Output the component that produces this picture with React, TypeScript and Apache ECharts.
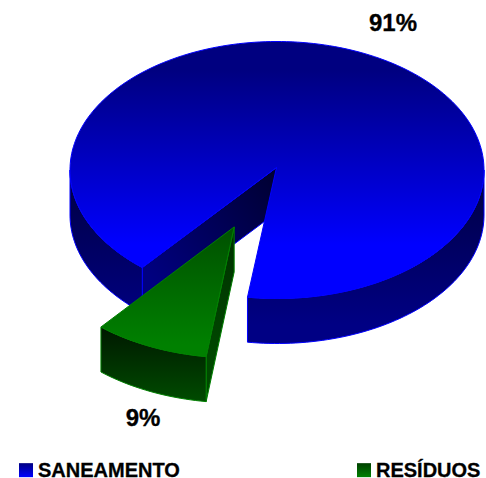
import React, { useEffect, useRef } from "react";
import * as echarts from "echarts";

const categories = ["SANEAMENTO", "RESÍDUOS"];
const shares = [91, 9];
const explodeFractions = [0, 0.495];

const CX = 277;
const CY = 170;
const RX = 207;
const RY = 128.5;
const APEX_DX = -0.5;
const APEX_DY = -2.5;
const DEPTH = 45;
const START = 130.6;
const FONT = '"Liberation Sans", Arial, sans-serif';

const vgrad = (y1: number, y2: number, c1: string, c2: string) => ({
  type: "linear", x: 0, y: y1, x2: 0, y2, global: true,
  colorStops: [{ offset: 0, color: c1 }, { offset: 1, color: c2 }],
});
const lgrad = (x1: number, y1: number, x2: number, y2: number, c1: string, c2: string) => ({
  type: "linear", x: x1, y: y1, x2, y2, global: true,
  colorStops: [{ offset: 0, color: c1 }, { offset: 1, color: c2 }],
});
const boxGrad = (c1: string, c2: string) => ({
  type: "linear", x: 0, y: 0, x2: 0, y2: 1,
  colorStops: [{ offset: 0, color: c1 }, { offset: 1, color: c2 }],
});

const palette = [
  {
    edge: "#0000ff",
    top: () => vgrad(70, 245, "#000080", "#0000ff"),
    outer: () => vgrad(170, 325, "#000040", "#000084"),
    inner: (p: number[], c: number[]) => lgrad(c[0], c[1], p[0], p[1], "#000030", "#000080"),
    legend: boxGrad("#000080", "#0000ff"),
  },
  {
    edge: "#008000",
    top: () => vgrad(226, 345, "#005000", "#008000"),
    outer: () => vgrad(327, 403, "#001800", "#004c00"),
    inner: (p: number[], c: number[]) => lgrad(c[0], c[1], p[0], p[1], "#003000", "#004800"),
    legend: boxGrad("#004000", "#008000"),
  },
];

const labelPos = [
  [393, 22],
  [143, 417],
];

function arcPts(a: number, b: number, ox: number, oy: number, dy = 0) {
  const n = Math.max(2, Math.ceil(Math.abs(b - a) / 1.5));
  const pts: number[][] = [];
  for (let i = 0; i <= n; i++) {
    const t = ((a + ((b - a) * i) / n) * Math.PI) / 180;
    pts.push([CX + ox + RX * Math.cos(t), CY + oy + dy + RY * Math.sin(t)]);
  }
  return pts;
}

function sliceRange(i: number) {
  const total = shares.reduce((s, v) => s + v, 0);
  let a = START;
  for (let k = 0; k < i; k++) a += (shares[k] / total) * 360;
  return [a, a + (shares[i] / total) * 360];
}

const renderSlice = (i: number) => (_params: any, api: any) => {
  const value = api.value(0);
  const [a, b] = sliceRange(i);
  const mid = (((a + b) / 2) * Math.PI) / 180;
  const k = explodeFractions[i];
  const ox = RX * k * Math.cos(mid) + (k > 0 ? 1 : 0);
  const oy = RY * k * Math.sin(mid) + (k > 0 ? 1.5 : 0);
  const c = [CX + APEX_DX + ox - (k > 0 ? 1 : 0), CY + APEX_DY + oy];
  const pal = palette[i];
  const stroke = { stroke: pal.edge, lineWidth: 1 };
  const children: any[] = [];
  const rad = (d: number) => (d * Math.PI) / 180;

  // flat cut faces
  [
    { ang: a, normal: a - 90 },
    { ang: b, normal: b + 90 },
  ].forEach(({ ang, normal }) => {
    if (Math.sin(rad(normal)) > 0) {
      const p = arcPts(ang, ang, ox, oy)[0];
      children.push({
        type: "polygon",
        shape: { points: [c, p, [p[0], p[1] + DEPTH], [c[0], c[1] + DEPTH]] },
        style: { fill: pal.inner(p, c), ...stroke },
      });
    }
  });

  // curved outer wall (front half only)
  [[0, 180], [360, 540]].forEach(([lo, hi]) => {
    const s = Math.max(a, lo);
    const e = Math.min(b, hi);
    if (e > s) {
      const upper = arcPts(s, e, ox, oy);
      const lower = arcPts(s, e, ox, oy, DEPTH).reverse();
      children.push({
        type: "polygon",
        shape: { points: upper.concat(lower) },
        style: { fill: pal.outer(), ...stroke },
      });
    }
  });

  // top face
  children.push({
    type: "polygon",
    shape: { points: [c, ...arcPts(a, b, ox, oy)] },
    style: { fill: pal.top(), ...stroke },
  });

  // percentage label
  children.push({
    type: "text",
    style: {
      text: `${value}%`,
      x: labelPos[i][0],
      y: labelPos[i][1],
      fontFamily: FONT,
      fontWeight: "bold",
      fontSize: 24,
      fill: "#000000",
      stroke: "#000000",
      lineWidth: 0.3,
      align: "center",
      verticalAlign: "middle",
    },
  });

  return { type: "group", children };
};

export default function App() {
  const ref = useRef<HTMLDivElement>(null);
  useEffect(() => {
    const chart = echarts.init(ref.current!, null, { renderer: "svg" });
    const legend = (i: number, left: number) => ({
      left,
      top: 460,
      itemWidth: 14,
      itemHeight: 14,
      padding: 0,
      icon: "rect",
      selectedMode: false,
      textStyle: {
        fontFamily: FONT,
        fontWeight: "bold",
        fontSize: 20,
        color: "#000000",
        textBorderColor: "#000000",
        textBorderWidth: 0.3,
      },
      data: [{ name: categories[i], itemStyle: { color: palette[i].legend } }],
    });
    chart.setOption({
      animation: false,
      backgroundColor: "#ffffff",
      legend: [legend(0, 19), legend(1, 357)],
      series: categories.map((name, i) => ({
        type: "custom",
        name,
        coordinateSystem: "none",
        silent: true,
        clip: false,
        itemStyle: { color: palette[i].legend },
        data: [shares[i]],
        renderItem: renderSlice(i),
      })),
    });
    return () => chart.dispose();
  }, []);
  return (
    <div
      ref={ref}
      style={{ position: "fixed", left: 0, top: 0, width: 486, height: 478 }}
    />
  );
}
